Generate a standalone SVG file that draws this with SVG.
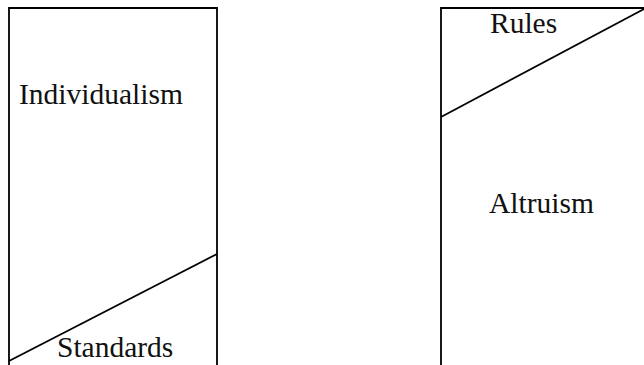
<svg xmlns="http://www.w3.org/2000/svg" width="644" height="365" viewBox="0 0 644 365">
<style>
.ln{fill:none;stroke:#000;stroke-width:1.8}
.t{font-family:"Liberation Serif",serif;font-size:29.5px;fill:#111}
</style>
<rect width="644" height="365" fill="#fff"/>
<g id="left-box">
<path class="ln" d="M9,366 V8 H217 V366"/>
<line class="ln" x1="9" y1="361" x2="217" y2="254"/>
<text class="t" x="19" y="104">Individualism</text>
<text class="t" x="57" y="357">Standards</text>
</g>
<g id="right-box">
<path class="ln" d="M441,366 V8 H645"/>
<line class="ln" x1="441" y1="117" x2="644" y2="9"/>
<text class="t" x="490" y="33">Rules</text>
<text class="t" x="489" y="213">Altruism</text>
</g>
<g id="connectors"/>
</svg>
